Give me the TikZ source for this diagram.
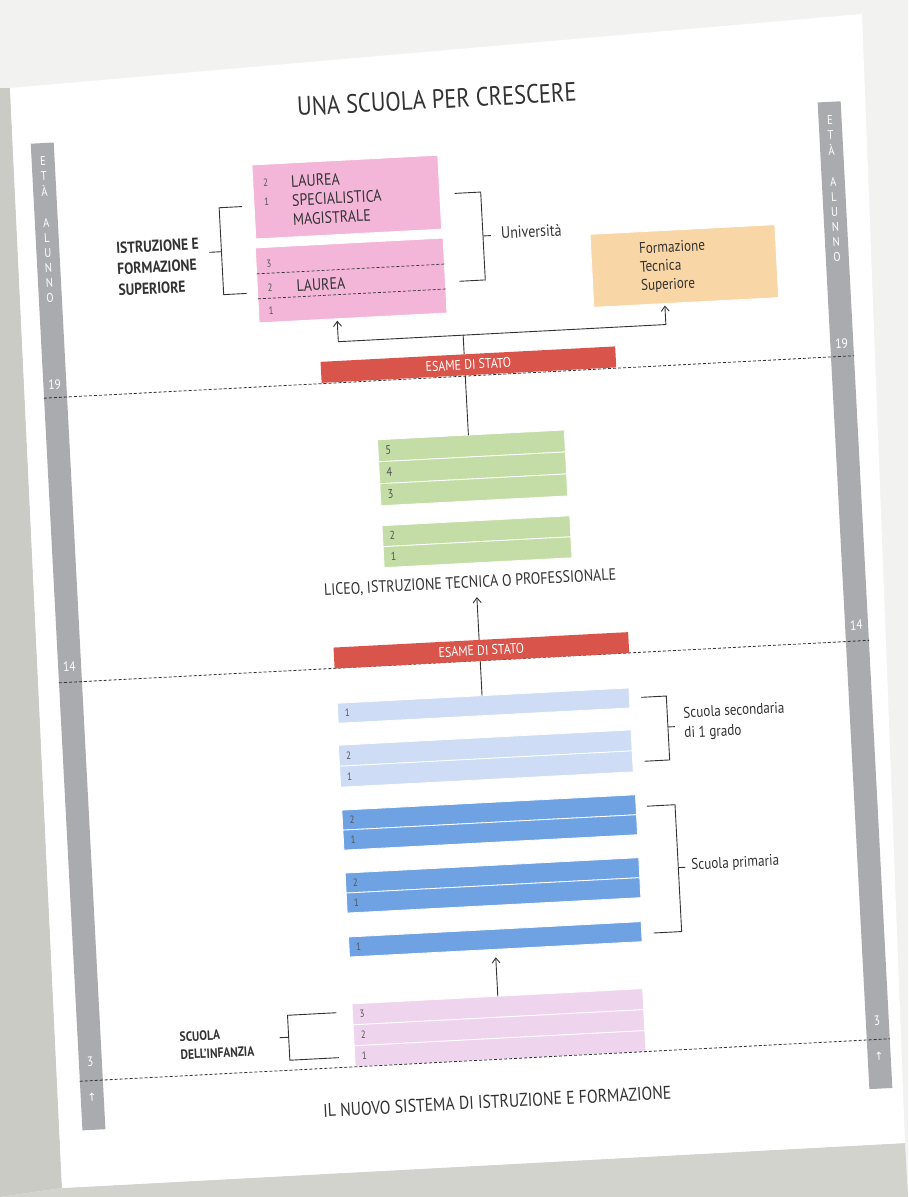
\documentclass[tikz,border=0pt]{standalone}
\usepackage{fontspec}
\setmainfont{PT Sans}[FakeStretch=0.85]
\newfontfamily\dejavu{DejaVu Sans}
\usetikzlibrary{arrows.meta,calc}
\definecolor{pinkU}{HTML}{F3B6D8}
\definecolor{orangeT}{HTML}{F8D6A6}
\definecolor{redE}{HTML}{D9554B}
\definecolor{greenL}{HTML}{C4DDA6}
\definecolor{blueL}{HTML}{CEDCF5}
\definecolor{blueD}{HTML}{6EA2E2}
\definecolor{pinkI}{HTML}{EFD4EE}
\definecolor{barG}{HTML}{A9ABAE}
\definecolor{txt}{HTML}{333333}
\definecolor{bgc}{HTML}{F2F2F0}
\definecolor{bgd}{HTML}{CBCBC5}
\tikzset{
 rowbox/.style={anchor=north west, inner sep=0pt, outer sep=0pt, draw=white, line width=0.8pt},
 numlab/.style={anchor=west, xshift=7pt, font=\fontsize{10.5}{10.5}\selectfont, text=txt!85, inner sep=0pt},
 lbl/.style={font=\fontsize{16.5}{19}\selectfont, text=txt, inner sep=0pt, align=left},
 blbl/.style={font=\bfseries\fontsize{16}{21}\selectfont, text=txt, inner sep=0pt, align=left},
 exam/.style={fill=redE, anchor=north west, inner sep=0pt, minimum width=295, minimum height=21, font=\fontsize{14}{14}\selectfont, text=white},
 conn/.style={draw=txt, line width=0.9pt},
 arr/.style={conn, -{Straight Barb[length=5pt,width=8pt]}},
 ageline/.style={draw=txt, line width=0.8pt, dash pattern=on 3pt off 2pt},
 barlet/.style={text=white, font=\fontsize{12.5}{12.5}\selectfont, inner sep=0pt},
 barnum/.style={text=white, font=\fontsize{13.5}{13.5}\selectfont, inner sep=0pt},
 agebar/.style={fill=barG, anchor=north west, inner sep=0pt, minimum width=23, minimum height=988},
}
\begin{document}
\begin{tikzpicture}[x=1pt,y=-1pt]
\useasboundingbox (0,0) rectangle (908,1197);
\fill[bgc] (0,0) rectangle (908,1197);
\fill[bgd] (0,88) -- (10,88) -- (62,1188) -- (0,1197) -- cycle;
\fill[bgd!80!bgc] (62,1188) -- (905,1143) -- (908,1197) -- (0,1197) -- cycle;
\fill[white] (10,88) -- (862,14) -- (905,1143) -- (62,1188) -- cycle;
\begin{scope}[rotate around={3:(454,600)}, transform shape]
% age bars
\node[agebar] (barL) at (55,122) {};
\node[agebar] (barR) at (843,122) {};
\foreach \t/\yy in {E/140,T/155,À/170,A/202,L/217,U/232,N/247,N/262,O/277}{
  \node[barlet] (bl\yy) at (66.5,\yy) {\t};
  \node[barlet] (br\yy) at (854.5,\yy) {\t};
}
\node[barnum] (l19) at (66.5,364) {19};
\node[barnum] (r19) at (854.5,364) {19};
\node[barnum] (l14) at (66.5,646) {14};
\node[barnum] (r14) at (854.5,646) {14};
\node[barnum] (l3) at (66.5,1042) {3};
\node[barnum] (r3) at (854.5,1042) {3};
\node[barlet, font=\dejavu\fontsize{11}{11}\selectfont] (lup) at (66.5,1078) {↑};
\node[barlet, font=\dejavu\fontsize{11}{11}\selectfont] (rup) at (854.5,1078) {↑};

% title
\node[font=\fontsize{26.5}{26.5}\selectfont, text=txt] (title) at (463,99) {UNA SCUOLA PER CRESCERE};

% university
\node[rowbox, fill=pinkU, minimum width=186, minimum height=74] (lsm) at (275,155) {};
\node[numlab] (lsm2) at (278,173) {2};
\node[numlab] (lsm1) at (278,192) {1};
\node[lbl, anchor=west] (lsmt) at (313,192.5) {LAUREA\\SPECIALISTICA\\MAGISTRALE};
\node[rowbox, fill=pinkU, minimum width=188, minimum height=75] (lt) at (274,238) {};
\draw[ageline, line width=0.7pt] (lt.west |- 0,264) -- (lt.east |- 0,264);
\draw[ageline, line width=0.7pt] (lt.west |- 0,289) -- (lt.east |- 0,289);
\node[numlab] (lt3) at (277,255) {3};
\node[numlab] (lt2) at (277,278) {2};
\node[numlab] (lt1) at (277,301) {1};
\node[lbl, anchor=west] (ltt) at (313,278) {LAUREA};
\node[blbl, anchor=west] (isf) at (135,252) {ISTRUZIONE E\\FORMAZIONE\\SUPERIORE};
\coordinate (lb1) at (263,196);
\coordinate (lb2) at (240,196);
\coordinate (lb3) at (240,283);
\coordinate (lb4) at (263,283);
\coordinate (lbt) at (228,240);
\draw[conn] (lb1) -- (lb2) -- (lb3) -- (lb4);
\draw[conn] (lbt) -- (lbt -| lb2);
\coordinate (ub1) at (476,194);
\coordinate (ub2) at (502,194);
\coordinate (ub3) at (502,282);
\coordinate (ub4) at (476,282);
\coordinate (ubt) at (510,238);
\draw[conn] (ub1) -- (ub2) -- (ub3) -- (ub4);
\draw[conn] (ubt) -- (ubt -| ub2);
\node[lbl, anchor=west] (univ) at (520,236) {Università};
\node[rowbox, fill=orangeT, minimum width=185, minimum height=73] (fts) at (609,242) {};
\node[lbl, anchor=west, font=\fontsize{15.5}{18.5}\selectfont] (ftst) at (657,278.5) {Formazione\\Tecnica\\Superiore};

% esame 1
\draw[ageline] (barL.west |- 0,377) -- (barR.east |- 0,377);
\node[exam] (esame1) at (333,355) {ESAME DI STATO};
\coordinate (j) at (477,336);
\coordinate (ta) at (352,315);
\coordinate (tb) at (680,317);
\draw[conn] (j |- esame1.north) -- (j);
\draw[arr] (j) -| (ta);
\draw[arr] (j) -| (tb);

% liceo
\node[rowbox, fill=greenL, minimum width=187, minimum height=22, label={[numlab, font=\fontsize{12.5}{12.5}\selectfont]west:5}] (g5) at (386,436) {};
\node[rowbox, fill=greenL, minimum width=187, minimum height=22, label={[numlab, font=\fontsize{12.5}{12.5}\selectfont]west:4}] (g4) at (386,458) {};
\node[rowbox, fill=greenL, minimum width=187, minimum height=22, label={[numlab, font=\fontsize{12.5}{12.5}\selectfont]west:3}] (g3) at (386,480) {};
\node[rowbox, fill=greenL, minimum width=188, minimum height=21, label={[numlab, font=\fontsize{11.5}{11.5}\selectfont]west:2}] (g2) at (386,522) {};
\node[rowbox, fill=greenL, minimum width=188, minimum height=21, label={[numlab, font=\fontsize{11.5}{11.5}\selectfont]west:1}] (g1) at (386,543) {};
\draw[conn] (j |- esame1.south) -- (j |- g5.north);
\node[lbl] (liceo) at (471,584) {LICEO, ISTRUZIONE TECNICA O PROFESSIONALE};

% esame 2
\draw[ageline] (barL.west |- 0,662) -- (barR.east |- 0,662);
\node[exam] (esame2) at (331,641) {ESAME DI STATO};
\draw[arr, shorten >=7pt] (j |- esame2.north) -- (j |- liceo.south);

% secondaria
\node[rowbox, fill=blueL, minimum width=292, minimum height=20, label={[numlab]west:1}] (s1) at (332,697) {};
\node[rowbox, fill=blueL, minimum width=293, minimum height=21, label={[numlab]west:2}] (s2b) at (331,739) {};
\node[rowbox, fill=blueL, minimum width=293, minimum height=21, label={[numlab]west:1}] (s1b) at (331,760) {};
\draw[conn] (j |- esame2.south) -- (j |- s1.north);
\coordinate (sb1) at (636,707);
\coordinate (sb2) at (661,707);
\coordinate (sb3) at (661,771);
\coordinate (sb4) at (636,771);
\coordinate (sbt) at (668,738);
\draw[conn] (sb1) -- (sb2) -- (sb3) -- (sb4);
\draw[conn] (sbt) -- (sbt -| sb2);
\node[lbl, anchor=west, font=\fontsize{15.5}{20}\selectfont] (sect) at (677,736) {Scuola secondaria\\di 1 grado};

% primaria
\node[rowbox, fill=blueD, minimum width=294, minimum height=20, label={[numlab]west:2}] (p2a) at (331,804) {};
\node[rowbox, fill=blueD, minimum width=294, minimum height=20, label={[numlab]west:1}] (p1a) at (331,824) {};
\node[rowbox, fill=blueD, minimum width=294, minimum height=20, label={[numlab]west:2}] (p2b) at (331,867) {};
\node[rowbox, fill=blueD, minimum width=294, minimum height=20, label={[numlab]west:1}] (p1b) at (331,887) {};
\node[rowbox, fill=blueD, minimum width=293, minimum height=20, label={[numlab]west:1}] (p1c) at (331,931) {};
\coordinate (pb1) at (636,816);
\coordinate (pb2) at (664,816);
\coordinate (pb3) at (664,943);
\coordinate (pb4) at (636,943);
\coordinate (pbt) at (671,879);
\draw[conn] (pb1) -- (pb2) -- (pb3) -- (pb4);
\draw[conn] (pbt) -- (pbt -| pb2);
\node[lbl, anchor=west, font=\fontsize{15.5}{20}\selectfont] (primt) at (677,878) {Scuola primaria};

% infanzia
\node[rowbox, fill=pinkI, minimum width=291, minimum height=21, label={[numlab]west:3}] (i3) at (331,998) {};
\node[rowbox, fill=pinkI, minimum width=291, minimum height=21, label={[numlab]west:2}] (i2) at (331,1019) {};
\node[rowbox, fill=pinkI, minimum width=291, minimum height=21, label={[numlab]west:1}] (i1) at (331,1040) {};
\draw[ageline] (barL.west |- i1.south) -- (barR.east |- i1.south);
\draw[arr, shorten >=8pt] (j |- i3.north) -- (j |- p1c.south);
\coordinate (ib1) at (315,1006);
\coordinate (ib2) at (266,1006);
\coordinate (ib3) at (266,1051);
\coordinate (ib4) at (315,1051);
\coordinate (ibt) at (257,1028);
\draw[conn] (ib1) -- (ib2) -- (ib3) -- (ib4);
\draw[conn] (ibt) -- (ibt -| ib2);
\node[blbl, anchor=west, font=\bfseries\fontsize{13.5}{18}\selectfont] (inft) at (157,1031) {SCUOLA\\DELL'INFANZIA};

% footer
\node[font=\fontsize{18.5}{18.5}\selectfont, text=txt] (foot) at (471,1103) {IL NUOVO SISTEMA DI ISTRUZIONE E FORMAZIONE};
\end{scope}
\end{tikzpicture}
\end{document}
